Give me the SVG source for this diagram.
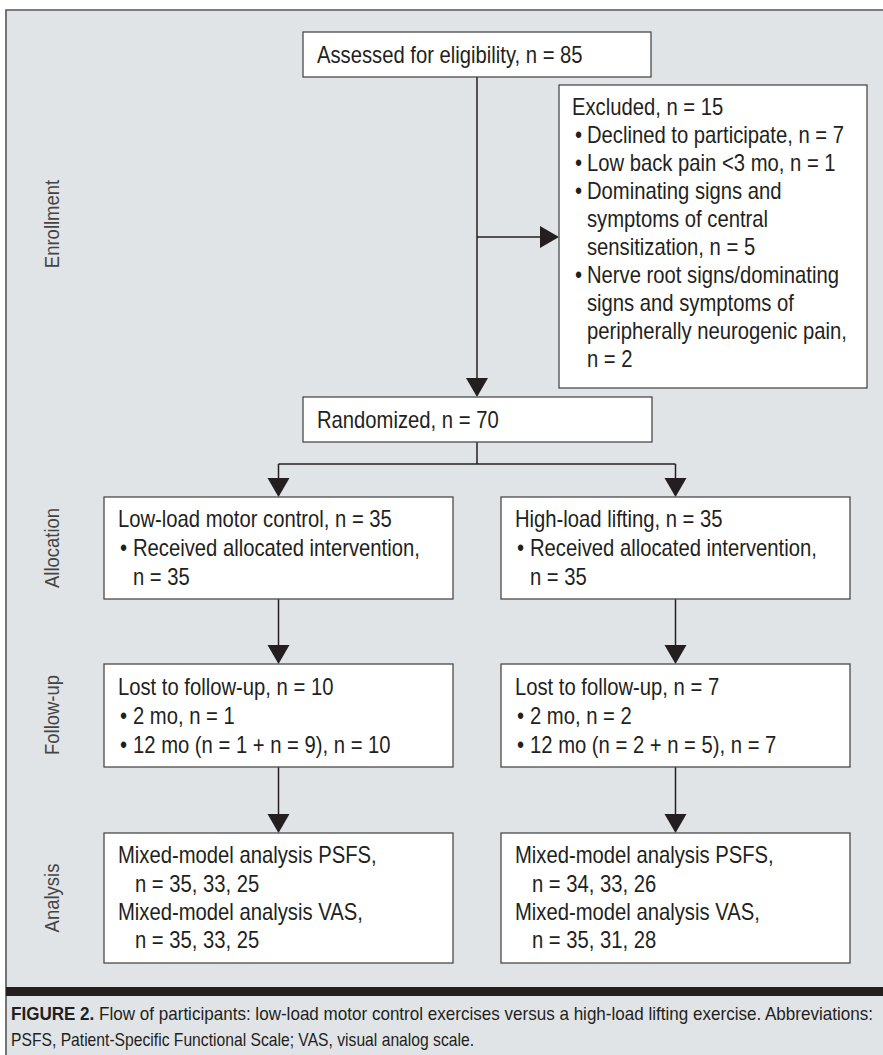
<svg xmlns="http://www.w3.org/2000/svg" width="883" height="1055" viewBox="0 0 883 1055">
<style>
.bg{fill:#e1e4e7}
.box{fill:#fff;stroke:#4a4a4a;stroke-width:1.3}
.t{font-family:"Liberation Sans",Arial,sans-serif;font-size:23px;fill:#231f20}
.lab{font-family:"Liberation Sans",Arial,sans-serif;font-size:21px;fill:#444;text-anchor:middle;dominant-baseline:central}
.cap{font-family:"Liberation Sans",Arial,sans-serif;font-size:18.5px;fill:#231f20}
.ln{stroke:#231f20;stroke-width:1.5;fill:none}
.ah{fill:#231f20}
</style>
<rect x="0" y="0" width="883" height="1055" fill="#fff"/>
<rect class="bg" x="6" y="10" width="877" height="1045"/>
<path d="M6 1055V10H883" fill="none" stroke="#555" stroke-width="1.6"/>

<g id="labels">
<text class="lab" transform="translate(52 224) rotate(-90) scale(.88 1)">Enrollment</text>
<text class="lab" transform="translate(52 548) rotate(-90) scale(.88 1)">Allocation</text>
<text class="lab" transform="translate(52 715) rotate(-90) scale(.88 1)">Follow-up</text>
<text class="lab" transform="translate(52 898) rotate(-90) scale(.88 1)">Analysis</text>
</g>

<g id="connectors">
<path class="ln" d="M477 77V380"/>
<polygon class="ah" points="466,378 488,378 477,397"/>
<path class="ln" d="M477 237H542"/>
<polygon class="ah" points="540,226 540,248 559,237"/>
<path class="ln" d="M477 442V464M278.5 464H675.5M278.5 464V480M675.5 464V480"/>
<polygon class="ah" points="267.5,478 289.5,478 278.5,497"/>
<polygon class="ah" points="664.5,478 686.5,478 675.5,497"/>
<path class="ln" d="M278.5 599V647M675.5 599V647"/>
<polygon class="ah" points="267.5,645 289.5,645 278.5,664"/>
<polygon class="ah" points="664.5,645 686.5,645 675.5,664"/>
<path class="ln" d="M278.5 767V816M675.5 767V816"/>
<polygon class="ah" points="267.5,814 289.5,814 278.5,833"/>
<polygon class="ah" points="664.5,814 686.5,814 675.5,833"/>
</g>

<g id="assessed">
<rect class="box" x="303" y="32" width="348" height="45"/>
<text class="t" transform="translate(317 63) scale(.88 1)">Assessed for eligibility, n = 85</text>
</g>

<g id="excluded">
<rect class="box" x="559" y="85" width="308" height="303"/>
<text class="t" transform="translate(572 115) scale(.88 1)">Excluded, n = 15</text>
<text class="t" transform="translate(575 143) scale(.88 1)">•</text><text class="t" transform="translate(587 143) scale(.88 1)">Declined to participate, n = 7</text>
<text class="t" transform="translate(575 171) scale(.88 1)">•</text><text class="t" transform="translate(587 171) scale(.88 1)">Low back pain &lt;3 mo, n = 1</text>
<text class="t" transform="translate(575 199) scale(.88 1)">•</text><text class="t" transform="translate(587 199) scale(.88 1)">Dominating signs and</text>
<text class="t" transform="translate(587 227) scale(.88 1)">symptoms of central</text>
<text class="t" transform="translate(587 255) scale(.88 1)">sensitization, n = 5</text>
<text class="t" transform="translate(575 283) scale(.88 1)">•</text><text class="t" transform="translate(587 283) scale(.88 1)">Nerve root signs/dominating</text>
<text class="t" transform="translate(587 311) scale(.88 1)">signs and symptoms of</text>
<text class="t" transform="translate(587 339) scale(.88 1)">peripherally neurogenic pain,</text>
<text class="t" transform="translate(587 367) scale(.88 1)">n = 2</text>
</g>

<g id="randomized">
<rect class="box" x="303" y="397" width="349" height="45"/>
<text class="t" transform="translate(317 428) scale(.88 1)">Randomized, n = 70</text>
</g>

<g id="alloc-low">
<rect class="box" x="104" y="497" width="349" height="102"/>
<text class="t" transform="translate(118 527) scale(.88 1)">Low-load motor control, n = 35</text>
<text class="t" transform="translate(120 556) scale(.88 1)">•</text><text class="t" transform="translate(133 556) scale(.88 1)">Received allocated intervention,</text>
<text class="t" transform="translate(133 585) scale(.88 1)">n = 35</text>
</g>

<g id="alloc-high">
<rect class="box" x="501" y="497" width="349" height="102"/>
<text class="t" transform="translate(515 527) scale(.88 1)">High-load lifting, n = 35</text>
<text class="t" transform="translate(517 556) scale(.88 1)">•</text><text class="t" transform="translate(530 556) scale(.88 1)">Received allocated intervention,</text>
<text class="t" transform="translate(530 585) scale(.88 1)">n = 35</text>
</g>

<g id="follow-low">
<rect class="box" x="104" y="664" width="349" height="103"/>
<text class="t" transform="translate(118 695) scale(.88 1)">Lost to follow-up, n = 10</text>
<text class="t" transform="translate(120 724) scale(.88 1)">•</text><text class="t" transform="translate(133 724) scale(.88 1)">2 mo, n = 1</text>
<text class="t" transform="translate(120 753) scale(.88 1)">•</text><text class="t" transform="translate(133 753) scale(.88 1)">12 mo (n = 1 + n = 9), n = 10</text>
</g>

<g id="follow-high">
<rect class="box" x="501" y="664" width="349" height="103"/>
<text class="t" transform="translate(515 695) scale(.88 1)">Lost to follow-up, n = 7</text>
<text class="t" transform="translate(517 724) scale(.88 1)">•</text><text class="t" transform="translate(530 724) scale(.88 1)">2 mo, n = 2</text>
<text class="t" transform="translate(517 753) scale(.88 1)">•</text><text class="t" transform="translate(530 753) scale(.88 1)">12 mo (n = 2 + n = 5), n = 7</text>
</g>

<g id="analysis-low">
<rect class="box" x="104" y="833" width="349" height="130"/>
<text class="t" transform="translate(118 863) scale(.88 1)">Mixed-model analysis PSFS,</text>
<text class="t" transform="translate(135 892) scale(.88 1)">n = 35, 33, 25</text>
<text class="t" transform="translate(118 920) scale(.88 1)">Mixed-model analysis VAS,</text>
<text class="t" transform="translate(135 948) scale(.88 1)">n = 35, 33, 25</text>
</g>

<g id="analysis-high">
<rect class="box" x="501" y="833" width="349" height="130"/>
<text class="t" transform="translate(515 863) scale(.88 1)">Mixed-model analysis PSFS,</text>
<text class="t" transform="translate(532 892) scale(.88 1)">n = 34, 33, 26</text>
<text class="t" transform="translate(515 920) scale(.88 1)">Mixed-model analysis VAS,</text>
<text class="t" transform="translate(532 948) scale(.88 1)">n = 35, 31, 28</text>
</g>

<g id="caption">
<rect x="6" y="987" width="877" height="9" fill="#231f20"/>
<text class="cap" x="11" y="1020" textLength="862" lengthAdjust="spacingAndGlyphs"><tspan font-weight="bold">FIGURE 2.</tspan> Flow of participants: low-load motor control exercises versus a high-load lifting exercise. Abbreviations:</text>
<text class="cap" x="11" y="1046" textLength="463" lengthAdjust="spacingAndGlyphs">PSFS, Patient-Specific Functional Scale; VAS, visual analog scale.</text>
</g>
</svg>
